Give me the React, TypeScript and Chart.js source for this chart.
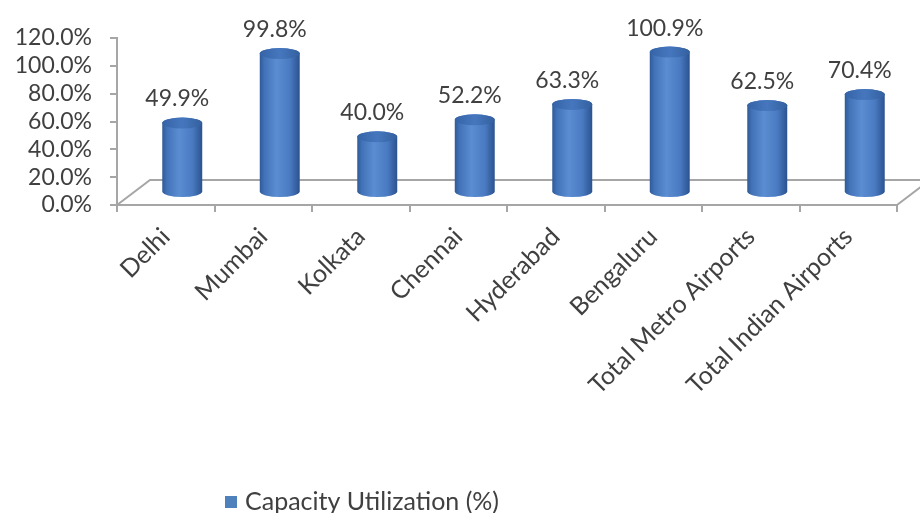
import React, { useEffect, useRef } from "react";
import { Chart, registerables } from "chart.js";

Chart.register(...registerables);

// Capacity utilization by airport
const categories = [
  "Delhi",
  "Mumbai",
  "Kolkata",
  "Chennai",
  "Hyderabad",
  "Bengaluru",
  "Total Metro Airports",
  "Total Indian Airports",
];
const utilization = [49.9, 99.8, 40.0, 52.2, 63.3, 100.9, 62.5, 70.4];
const seriesLabel = "Capacity Utilization (%)";
const axisMin = 0;
const axisMax = 120;
const axisStep = 20;

const FONT = "Lato, 'Open Sans', sans-serif";
const TEXT_COLOR = "#404040";
const LINE_COLOR = "#A6A6A6";
const SERIES_COLOR = "#4F81BD";

// oblique depth of the 3-D floor
const DEPTH_X = 33;
const DEPTH_Y = -25;
const ELLIPSE_RY = 5.5;

const pct = (v: number) => v.toFixed(1) + "%";

function drawCylinder(
  ctx: CanvasRenderingContext2D,
  cx: number,
  topY: number,
  baseY: number,
  w: number
) {
  const rx = w / 2;
  const ry = ELLIPSE_RY;
  const left = cx - rx;
  const right = cx + rx;

  const side = ctx.createLinearGradient(left, 0, right, 0);
  side.addColorStop(0, "#2F5A96");
  side.addColorStop(0.12, "#4273B9");
  side.addColorStop(0.42, "#5B8DD3");
  side.addColorStop(0.75, "#4A7BC2");
  side.addColorStop(1, "#2B5290");

  ctx.beginPath();
  ctx.moveTo(left, topY);
  ctx.lineTo(left, baseY);
  ctx.ellipse(cx, baseY, rx, ry, 0, Math.PI, 0, true);
  ctx.lineTo(right, topY);
  ctx.ellipse(cx, topY, rx, ry, 0, 0, Math.PI, true);
  ctx.closePath();
  ctx.fillStyle = side;
  ctx.fill();

  const cap = ctx.createLinearGradient(left, 0, right, 0);
  cap.addColorStop(0, "#3563A6");
  cap.addColorStop(0.5, "#4677BE");
  cap.addColorStop(1, "#33609F");
  ctx.beginPath();
  ctx.ellipse(cx, topY, rx, ry, 0, 0, Math.PI * 2);
  ctx.fillStyle = cap;
  ctx.fill();
}

const floorPlugin = {
  id: "floor3d",
  beforeDatasetsDraw(chart: any) {
    const { ctx, chartArea } = chart;
    const { left, right, bottom } = chartArea;
    ctx.save();
    ctx.strokeStyle = LINE_COLOR;
    ctx.lineWidth = 2;
    ctx.beginPath();
    ctx.moveTo(left, bottom);
    ctx.lineTo(left + DEPTH_X, bottom + DEPTH_Y);
    ctx.lineTo(right + DEPTH_X, bottom + DEPTH_Y);
    ctx.moveTo(right, bottom);
    ctx.lineTo(right + DEPTH_X, bottom + DEPTH_Y);
    ctx.stroke();
    ctx.restore();
  },
  // flat bars are replaced by cylinders
  beforeDatasetDraw() {
    return false;
  },
};

const cylinderPlugin = {
  id: "cylinders",
  afterDatasetsDraw(chart: any) {
    const { ctx } = chart;
    const meta = chart.getDatasetMeta(0);
    const values = chart.data.datasets[0].data as number[];
    ctx.save();
    meta.data.forEach((bar: any, i: number) => {
      const { x, y, base, width } = bar.getProps(["x", "y", "base", "width"], true);
      const cx = x + DEPTH_X / 2;
      const topY = y + DEPTH_Y / 2;
      const baseY = base + DEPTH_Y / 2;
      drawCylinder(ctx, cx, topY, baseY, width);

      ctx.fillStyle = TEXT_COLOR;
      ctx.font = `23px ${FONT}`;
      ctx.textAlign = "center";
      ctx.textBaseline = "middle";
      ctx.fillText(pct(values[i]), cx - 5, topY - 24);
    });
    ctx.restore();
  },
};

const legendPlugin = {
  id: "bottomLegend",
  afterDraw(chart: any) {
    const { ctx } = chart;
    const ds = chart.data.datasets[0];
    const boxX = 225;
    const midY = 502;
    ctx.save();
    ctx.fillStyle = ds.backgroundColor;
    ctx.fillRect(boxX, midY - 6, 12, 12);
    ctx.fillStyle = TEXT_COLOR;
    ctx.font = `25px ${FONT}`;
    ctx.textAlign = "left";
    ctx.textBaseline = "middle";
    ctx.fillText(ds.label, boxX + 20, midY);
    ctx.restore();
  },
};

export default function App() {
  const canvasRef = useRef<HTMLCanvasElement | null>(null);

  useEffect(() => {
    document.body.style.margin = "0";
    const canvas = canvasRef.current;
    if (!canvas) return;

    const chart = new Chart(canvas, {
      type: "bar",
      data: {
        labels: categories,
        datasets: [
          {
            label: seriesLabel,
            data: utilization,
            backgroundColor: SERIES_COLOR,
            categoryPercentage: 1,
            barPercentage: 0.41,
          },
        ],
      },
      options: {
        responsive: false,
        animation: false,
        devicePixelRatio: 1,
        layout: { padding: { top: 38, right: 23, bottom: 40, left: 0 } },
        plugins: {
          legend: { display: false },
          tooltip: { enabled: false },
        },
        scales: {
          x: {
            offset: true,
            afterFit: (scale: any) => {
              scale.height = 513 - 205 - 40;
            },
            grid: {
              offset: true,
              drawOnChartArea: false,
              drawTicks: true,
              tickLength: 7,
              color: LINE_COLOR,
              lineWidth: 2,
            },
            border: { display: true, color: LINE_COLOR, width: 2 },
            ticks: {
              minRotation: 45,
              maxRotation: 45,
              autoSkip: false,
              padding: 10,
              color: TEXT_COLOR,
              font: { family: FONT, size: 25 },
            },
          },
          y: {
            min: axisMin,
            max: axisMax,
            afterFit: (scale: any) => {
              scale.width = 117;
            },
            grid: {
              drawOnChartArea: false,
              drawTicks: true,
              tickLength: 7,
              color: LINE_COLOR,
              lineWidth: 2,
            },
            border: { display: true, color: LINE_COLOR, width: 2 },
            ticks: {
              stepSize: axisStep,
              autoSkip: false,
              padding: 18,
              color: TEXT_COLOR,
              font: { family: FONT, size: 23 },
              callback: (v: any) => pct(Number(v)),
            },
          },
        },
      },
      plugins: [floorPlugin, cylinderPlugin, legendPlugin],
    });

    return () => chart.destroy();
  }, []);

  return (
    <div style={{ width: 920, height: 513, background: "#fff" }}>
      <canvas ref={canvasRef} width={920} height={513} />
    </div>
  );
}
